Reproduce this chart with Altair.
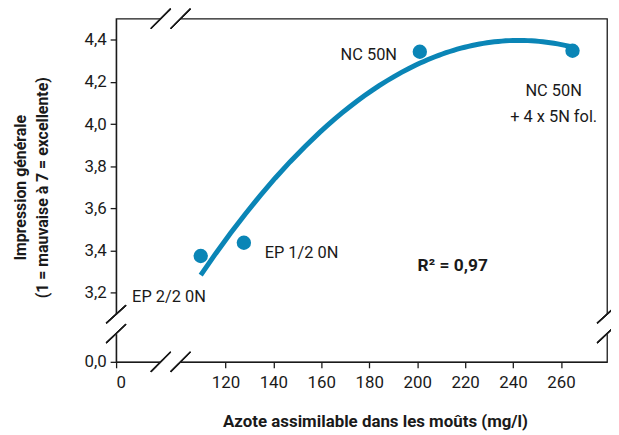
import altair as alt
import pandas as pd

# ---- data ----
labels = ["EP 2/2 0N", "EP 1/2 0N", "NC 50N", "NC 50N + 4 x 5N fol."]
azote = [109.7, 127.7, 201.1, 264.8]          # mg/l
impression = [3.374, 3.437, 4.343, 4.348]     # score

x_ticks = [120, 140, 160, 180, 200, 220, 240, 260]
y_ticks = [3.2, 3.4, 3.6, 3.8, 4.0, 4.2, 4.4]
# broken axes: the "0" tick sits at these positions of the continuous scale
X_ZERO_POS = 74.4
Y_ZERO_POS = 2.872
X_MAX = 279.2
Y_MAX = 4.5

FONT = "Roboto"
BLUE = "#0a85b6"
INK = "#1a1a1a"
W, H = 495, 346

df = pd.DataFrame({"label": labels, "azote": azote, "impression": impression})

xs = alt.Scale(domain=[X_ZERO_POS, X_MAX], nice=False, zero=False)
ys = alt.Scale(domain=[Y_ZERO_POS, Y_MAX], nice=False, zero=False)

base = alt.Chart(df)

points = base.mark_circle(size=210, opacity=1, color=BLUE).encode(
    x=alt.X("azote:Q", scale=xs, axis=alt.Axis(
        values=[X_ZERO_POS] + x_ticks,
        labelExpr="datum.value < 100 ? '0' : format(datum.value, 'd')",
        title="Azote assimilable dans les moûts (mg/l)",
        titleX=261, titleY=60, titleBaseline="middle", titleAnchor="start", titleAlign="center",
    )),
    y=alt.Y("impression:Q", scale=ys, axis=alt.Axis(
        values=[Y_ZERO_POS] + y_ticks,
        labelExpr="datum.value < 3 ? '0,0' : replace(format(datum.value, '.1f'), '.', ',')",
        title=["Impression générale", "(1 = mauvaise à 7 = excellente)"],
        titleAngle=270, titleX=-96, titleY=170, titleBaseline="middle", titleAlign="center",
        titleAnchor="start", titleLineHeight=22, titleFontSize=16,
    )),
)

fit = base.transform_regression("azote", "impression", method="poly", order=2).mark_line(
    color=BLUE, strokeWidth=5, strokeCap="butt"
).encode(x=alt.X("azote:Q", scale=xs), y=alt.Y("impression:Q", scale=ys))


def label_layer(name, text, align, dx, dy):
    return base.transform_filter(alt.datum.label == name).mark_text(
        align=align, baseline="middle", dx=dx, dy=dy, font=FONT, fontSize=16.5, color=INK,
        lineBreak="\n", lineHeight=26,
    ).encode(x=alt.X("azote:Q", scale=xs), y=alt.Y("impression:Q", scale=ys), text=alt.value(text))


texts = [
    label_layer("EP 2/2 0N", "EP 2/2 0N", "center", -32, 41),
    label_layer("EP 1/2 0N", "EP 1/2 0N", "left", 21, 10),
    label_layer("NC 50N", "NC 50N", "right", -23, 3),
    label_layer("NC 50N + 4 x 5N fol.", "NC 50N\n+ 4 x 5N fol.", "center", -19, 41),
]

r2 = alt.Chart(pd.DataFrame({"t": ["R² = 0,97"]})).mark_text(
    align="left", baseline="middle", font=FONT, fontSize=17.5, fontWeight="bold", color=INK
).encode(x=alt.value(304), y=alt.value(249), text="t:N")

# axis break decorations (pixel positions inside plot area)
gaps = [  # white segments erasing the axis line between slashes
    (45, 0, 65, 0), (45, H, 65, H), (0, 298, 0, 318), (W, 298, W, 318),
]
slashes = [
    (35, 10, 55, -10), (55, 10, 75, -10),
    (35, H + 10, 55, H - 10), (55, H + 10, 75, H - 10),
    (-10, 307, 10, 289), (-10, 327, 10, 308),
    (W - 10, 307, W + 10, 289), (W - 10, 327, W + 10, 308),
]
deco = []
for (x1, y1, x2, y2) in gaps:
    deco.append(alt.Chart(df).mark_rule(color="white", strokeWidth=4).encode(
        x=alt.value(x1), x2=alt.value(x2), y=alt.value(y1), y2=alt.value(y2)))
for (x1, y1, x2, y2) in slashes:
    deco.append(alt.Chart(df).mark_rule(color=INK, strokeWidth=1.3).encode(
        x=alt.value(x1), x2=alt.value(x2), y=alt.value(y1), y2=alt.value(y2)))

chart = alt.layer(fit, points, *texts, r2, *deco).properties(
    width=W, height=H,
    autosize=alt.AutoSizeParams(type="none"),
    padding={"left": 109, "top": 9, "right": 4, "bottom": 70},
).configure_view(stroke=INK, strokeWidth=1.3).configure_axis(
    grid=False, domainColor=INK, domainWidth=1.3, tickColor=INK, tickWidth=1.3, tickSize=6,
    labelFont=FONT, labelFontSize=17, labelColor=INK, labelPadding=4,
    titleFont=FONT, titleFontSize=17, titleFontWeight="bold", titleColor=INK,
).configure_axisX(labelPadding=7)

chart.save("out.html", embed_options={"renderer": "svg", "actions": False})
